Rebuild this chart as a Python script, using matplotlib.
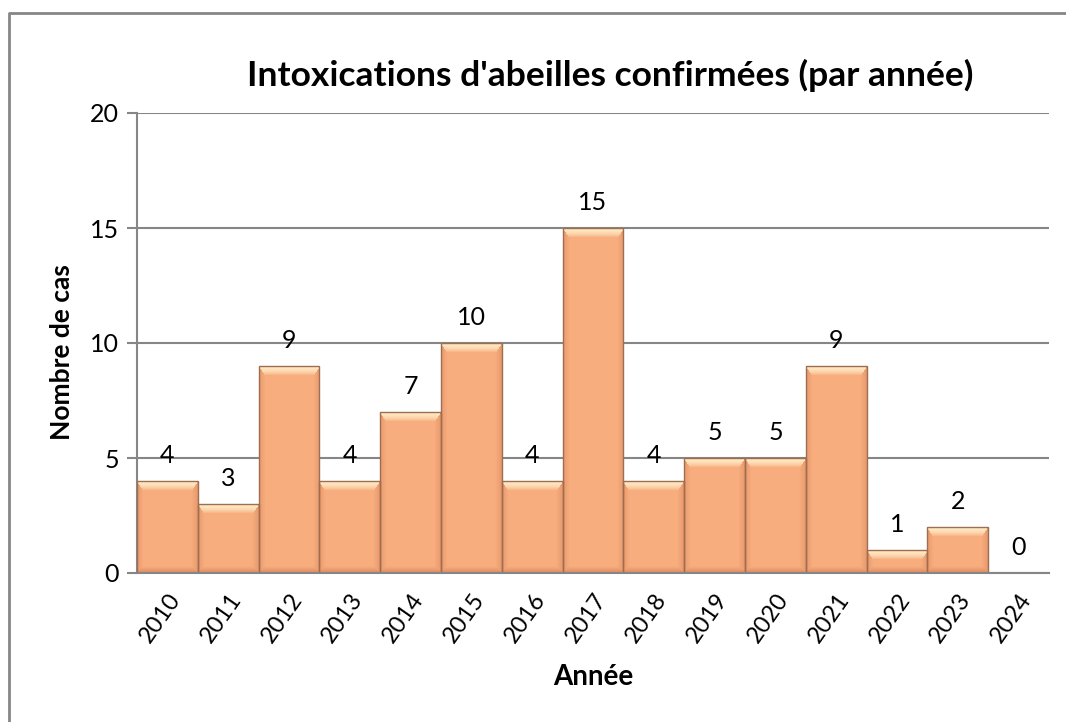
import matplotlib
matplotlib.use("Agg")
import matplotlib.pyplot as plt
from matplotlib.lines import Line2D
from matplotlib.colors import to_rgb
from matplotlib.transforms import ScaledTranslation
import numpy as np

years = ["2010", "2011", "2012", "2013", "2014", "2015", "2016", "2017",
         "2018", "2019", "2020", "2021", "2022", "2023", "2024"]
cases = [4, 3, 9, 4, 7, 10, 4, 15, 4, 5, 5, 9, 1, 2, 0]
yticks = [0, 5, 10, 15, 20]

title = "Intoxications d'abeilles confirmées (par année)"
xlabel = "Année"
ylabel = "Nombre de cas"

plt.rcParams['font.family'] = ['Lato', 'DejaVu Sans']

W, H = 1066, 722
fig = plt.figure(figsize=(W / 100, H / 100), dpi=100)
ax = fig.add_axes([137 / W, 1 - 573 / H, (1049 - 137) / W, (573 - 113) / H])

x = np.arange(len(years))
vals = np.array(cases, dtype=float)
body = np.array(to_rgb("#F8AD7F"))
light = np.array(to_rgb("#FFE8C2"))
side = np.array(to_rgb("#E99A6C"))
dark = np.array(to_rgb("#DD8D60"))
edge = "#9E6E52"

ax.set_xlim(-0.5, len(years) - 0.5)
ax.set_ylim(0, 20)

bars = ax.bar(x, vals, width=1.0, color="none", edgecolor=edge,
              linewidth=1.0, zorder=4)
fig.canvas.draw()
bev = 9.0
for rect, v in zip(bars, cases):
    if v <= 0:
        continue
    bb = rect.get_window_extent()
    wp, hp = max(int(round(bb.width)), 2), max(int(round(bb.height)), 2)
    yy, xx = np.mgrid[0:hp, 0:wp].astype(float)
    dt = yy
    db = hp - 1 - yy
    dl = xx
    dr = wp - 1 - xx
    img = np.tile(body, (hp, wp, 1))
    dside = np.minimum(dl, dr)
    sb = 6.0
    m = dside < sb
    t = (dside / sb)[m][:, None]
    img[m] = side * (1 - t) + body * t
    m = (db < sb) & (db <= dside)
    t = (db / sb)[m][:, None]
    img[m] = dark * (1 - t) + body * t
    m = (dt < bev) & (dt <= dside * bev / sb + 0.5)
    t = (dt / bev)[m][:, None]
    img[m] = light * (1 - t**2) + body * t**2
    x0 = rect.get_x()
    im = ax.imshow(img, extent=(x0, x0 + rect.get_width(), 0, v),
                   origin="upper", aspect="auto", zorder=3,
                   interpolation="bilinear")
    im.set_clip_path(rect)

for xi, v in zip(x, cases):
    ax.annotate(str(v), (xi, v), xytext=(0, 10), textcoords="offset points",
                ha="center", va="bottom", fontsize=18, color="black", zorder=5)

ax.set_xlim(-0.5, len(years) - 0.5)
ax.set_ylim(0, 20)
ax.set_yticks(yticks)
ax.set_yticklabels([str(t) for t in yticks], fontsize=18)
ax.set_xticks(x)
ax.set_xticklabels(years, fontsize=17, rotation=55, ha="right",
                   va="top", rotation_mode="anchor")
shift = ScaledTranslation(5 / 100, 0, fig.dpi_scale_trans)
for lab in ax.get_xticklabels():
    lab.set_transform(lab.get_transform() + shift)
ax.tick_params(axis="x", length=0, pad=12)
ax.tick_params(axis="y", length=7, width=1.5, color="#868686", pad=6)

ax.grid(axis="y", color="#868686", linewidth=1.5, zorder=0)
ax.set_axisbelow(True)
for s in ["top", "right"]:
    ax.spines[s].set_visible(False)
ax.spines["left"].set_color("#868686")
ax.spines["left"].set_linewidth(1.5)
ax.spines["bottom"].set_color("#868686")
ax.spines["bottom"].set_linewidth(1.5)
ax.spines["bottom"].set_zorder(5)

fig.text(610 / W, 1 - 75 / H, title, ha="center", va="center",
         fontsize=25.5, fontweight="bold")
fig.text(593 / W, 1 - 677 / H, xlabel, ha="center", va="center",
         fontsize=20, fontweight="bold")
fig.text(62 / W, 1 - 352 / H, ylabel, ha="center", va="center",
         fontsize=19, fontweight="bold", rotation=90)

fig.add_artist(Line2D([9 / W, 9 / W, 1], [0, 1 - 13 / H, 1 - 13 / H],
                      transform=fig.transFigure, color="#868686", linewidth=2))

fig.savefig("out.png", dpi=100, facecolor="white")
